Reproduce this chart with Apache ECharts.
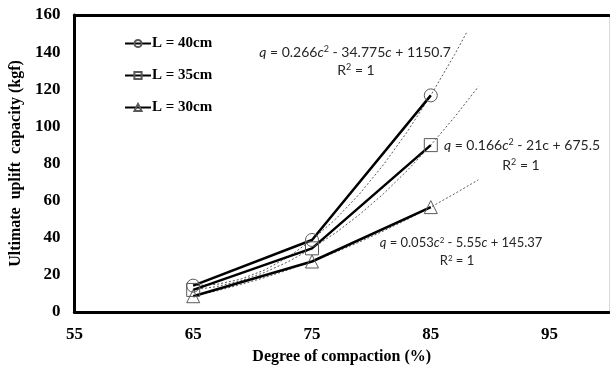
<!DOCTYPE html>
<html>
<head>
<meta charset="utf-8">
<script src="https://cdn.jsdelivr.net/npm/echarts@6/dist/echarts.min.js"></script>
<style>
  html, body { margin: 0; padding: 0; background: #fff; }
  #chart { width: 610px; height: 371px; }
</style>
</head>
<body>
<div id="chart"></div>
<script>
// measured points
const compaction = [65, 75, 85]
const load40 = [14.2, 38.8, 116.7]
const load35 = [11.9, 34.3, 89.9]
const load30 = [8.5, 27.2, 56.5]

// dotted polynomial trend lines
const trendX40 = [65, 67, 69, 71, 73, 75, 77, 79, 81, 83, 85, 87, 88]
const trend40 = [14.2, 14.9, 17.7, 22.6, 29.6, 38.8, 50.1, 63.6, 79.2, 96.9, 116.7, 138.6, 150.4]
const trendX35 = [65, 67, 69, 71, 73, 75, 77, 79, 81, 83, 85, 87, 89]
const trend35 = [11.9, 13.7, 16.8, 21.3, 27.1, 34.3, 42.7, 52.5, 63.6, 76.1, 89.9, 105.0, 121.4]
const trendX30 = [65, 67, 69, 71, 73, 75, 77, 79, 81, 83, 85, 87, 89]
const trend30 = [8.5, 11.4, 14.8, 18.5, 22.7, 27.2, 32.3, 37.7, 43.6, 49.8, 56.5, 63.7, 71.2]

const xTicks = [55, 65, 75, 85, 95]
const yTicks = [0, 20, 40, 60, 80, 100, 120, 140, 160]

const serif = `'Liberation Serif', 'Times New Roman', serif`
const eqFont = `Lato, 'Open Sans', sans-serif`

function pairs (xs, ys) {
  return xs.map((x, i) => [x, ys[i]])
}

function mainSeries (name, ys, symbol) {
  return {
    name: name,
    type: 'line',
    data: pairs(compaction, ys),
    symbol: symbol,
    symbolSize: 13,
    z: 3,
    lineStyle: { color: '#000', width: 2.5 },
    itemStyle: { color: 'rgba(255,255,255,0)', borderColor: '#595959', borderWidth: 1 }
  }
}

function trendSeries (xs, ys) {
  return {
    type: 'line',
    data: pairs(xs, ys),
    smooth: false,
    showSymbol: false,
    silent: true,
    z: 2,
    lineStyle: { color: '#595959', width: 1, type: [2, 2] }
  }
}

function eqText (x, y, text, size) {
  const base = { fontSize: size, fontFamily: eqFont, fill: '#262626' }
  return {
    type: 'text',
    x: x,
    y: y,
    style: {
      text: text,
      align: 'center',
      verticalAlign: 'middle',
      fill: '#262626',
      font: `${size}px ${eqFont}`,
      rich: {
        i: Object.assign({ fontStyle: 'italic' }, base),
        n: base,
        s: { fontSize: Math.round(size * 0.65), fontFamily: eqFont, fill: '#262626', verticalAlign: 'top' }
      }
    },
    z: 10
  }
}

const chart = echarts.init(document.getElementById('chart'))

const option = {
  animation: false,
  backgroundColor: '#fff',
  grid: { left: 71, right: 1, top: 15, bottom: 59 },
  legend: {
    orient: 'vertical',
    left: 119,
    top: 31,
    itemGap: 17,
    itemWidth: 26,
    itemHeight: 9,
    selectedMode: false,
    data: ['L = 40cm', 'L = 35cm', 'L = 30cm'],
    textStyle: { fontFamily: serif, fontWeight: 'bold', fontSize: 15, color: '#000', padding: [0, 0, 0, -4] }
  },
  xAxis: [{
    type: 'value',
    min: 55,
    max: 100,
    interval: 10,
    name: 'Degree of compaction (%)',
    nameLocation: 'middle',
    nameGap: 37,
    nameTextStyle: { fontFamily: serif, fontWeight: 'bold', fontSize: 16, color: '#000' },
    axisLine: { onZero: false, lineStyle: { color: '#000', width: 3 } },
    axisTick: { show: false },
    splitLine: { show: false },
    axisLabel: {
      margin: 14,
      showMaxLabel: false,
      fontFamily: serif,
      fontWeight: 'bold',
      fontSize: 17,
      color: '#000',
      formatter: v => (xTicks.indexOf(v) >= 0 ? String(v) : '')
    }
  }, {
    type: 'value',
    position: 'top',
    min: 55,
    max: 100,
    axisLine: { show: true, onZero: false, lineStyle: { color: '#000', width: 3 } },
    axisTick: { show: false },
    axisLabel: { show: false },
    splitLine: { show: false }
  }],
  yAxis: [{
    type: 'value',
    min: 0,
    max: 160,
    interval: 20,
    name: 'Ultimate  uplift  capacity (kgf)',
    nameLocation: 'middle',
    nameGap: 48,
    nameTextStyle: { fontFamily: serif, fontWeight: 'bold', fontSize: 16, color: '#000' },
    axisLine: { show: true, onZero: false, lineStyle: { color: '#000', width: 3 } },
    axisTick: { show: false },
    splitLine: { show: false },
    axisLabel: {
      margin: 14,
      fontFamily: serif,
      fontWeight: 'bold',
      fontSize: 17,
      color: '#000',
      formatter: v => (yTicks.indexOf(v) >= 0 ? String(v) : '')
    }
  }, {
    type: 'value',
    position: 'right',
    min: 0,
    max: 160,
    axisLine: { show: true, onZero: false, lineStyle: { color: '#d9d9d9', width: 1 } },
    axisTick: { show: false },
    axisLabel: { show: false },
    splitLine: { show: false }
  }],
  series: [
    mainSeries('L = 40cm', load40, 'circle'),
    mainSeries('L = 35cm', load35, 'rect'),
    mainSeries('L = 30cm', load30, 'triangle'),
    trendSeries(trendX40, trend40),
    trendSeries(trendX35, trend35),
    trendSeries(trendX30, trend30)
  ],
  graphic: [
    eqText(355, 52, '{i|q}{n| = 0.266}{i|c}{s|2}{n| - 34.775}{i|c}{n| + 1150.7}', 14),
    eqText(356, 70, '{n|R}{s|2}{n| = 1}', 14),
    eqText(522, 145, '{i|q}{n| = 0.166}{i|c}{s|2}{n| - 21c + 675.5}', 14),
    eqText(521, 165, '{n|R}{s|2}{n| = 1}', 14),
    eqText(461, 243, '{i|q}{n| = 0.053}{i|c}{s|2}{n| - 5.55}{i|c}{n| + 145.37}', 13),
    eqText(457, 261, '{n|R}{s|2}{n| = 1}', 13)
  ]
}

chart.setOption(option)
</script>
</body>
</html>
